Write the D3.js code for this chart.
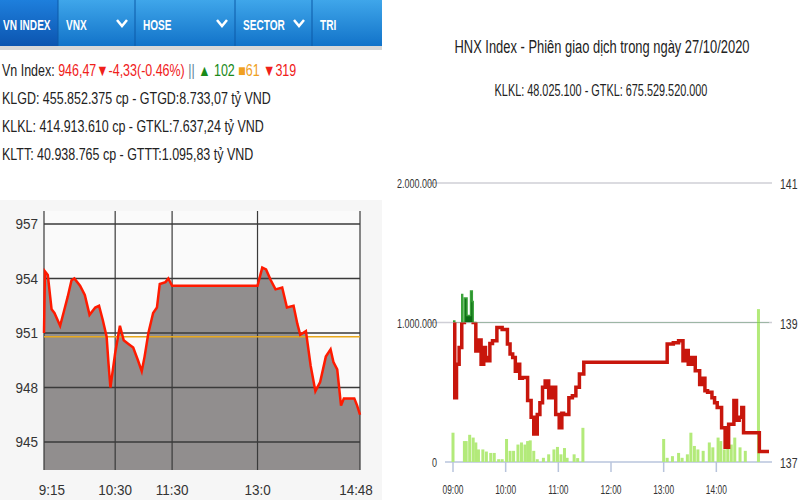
<!DOCTYPE html>
<html><head><meta charset="utf-8">
<script src="https://cdn.jsdelivr.net/npm/d3@7"></script>
<style>body{margin:0;background:#fff}svg{display:block}</style>
</head><body><svg id="c" width="800" height="500"></svg>
<script>
// ---------- data ----------
const tabs = ["VN INDEX","VNX","HOSE","SECTOR","TRI"];
const vnTimes = ["9:15","9:16","9:19","9:23","9:26","9:32","9:36","9:40","9:44","9:47","9:53","9:58","10:03","10:09","10:13","10:17","10:21","10:23","10:25","10:30","10:35","10:39","10:44","10:49","10:54","10:58","11:01","11:05","11:10","11:14","11:17","11:23","11:26","11:30","13:00","13:05","13:09","13:14","13:19","13:26","13:31","13:38","13:42","13:45","13:51","13:56","14:01","14:06","14:12","14:17","14:20","14:24","14:28","14:31","14:42","14:45","14:48"];
const vnValues = [951.0,954.4,954.2,952.3,952.1,951.4,952.2,953.0,953.9,954.0,953.6,953.1,952.0,952.4,952.5,951.7,950.8,949.3,948.0,949.9,951.4,950.6,950.4,950.2,949.5,948.9,949.7,951.0,952.1,952.4,953.7,953.8,954.0,953.6,953.6,954.6,954.5,953.9,953.4,953.5,952.4,952.5,951.5,950.9,951.1,949.2,947.8,948.3,949.7,950.1,949.4,949.0,947.0,947.4,947.4,947.0,946.5];
const vnRef = 950.8;
const vnYTicks = [945,948,951,954,957];
const vnXTicks = ["9:15","10:30","11:30","13:00","14:48"];
const vnXLabels = ["9:15","10:30","11:30","13:0","14:48"];

const hnxTimes = ["09:00","09:02","09:04","09:07","09:10","09:11","09:13","09:16","09:20","09:22","09:23","09:26","09:29","09:32","09:35","09:37","09:39","09:42","09:45","09:50","09:56","10:02","10:05","10:08","10:11","10:13","10:16","10:19","10:25","10:29","10:32","10:36","10:39","10:42","10:45","10:49","10:53","10:57","11:01","11:04","11:06","11:12","11:16","11:20","11:24","11:29","13:00","13:04","13:11","13:17","13:22","13:25","13:28","13:32","13:36","13:41","13:44","13:47","13:50","13:55","13:58","14:01","14:06","14:10","14:14","14:20","14:23","14:26","14:29","14:31","14:47","14:49","15:00"];
const hnxPrices = [139.02,137.92,138.4,138.64,139.4,139.0,139.35,139.1,139.45,139.3,139.0,138.59,138.75,138.40,138.64,138.5,138.45,138.7,138.74,138.93,138.90,138.69,138.55,138.50,138.30,138.40,138.2,138.21,137.88,137.64,137.40,137.68,137.85,138.07,138.16,137.92,138.07,137.68,137.49,137.7,137.68,137.92,137.95,138.07,138.26,138.43,138.43,138.69,138.71,138.74,138.45,138.6,138.40,138.5,138.31,138.11,138.2,138.02,138.0,137.92,137.85,137.78,137.49,137.21,137.54,137.88,137.6,137.64,137.78,137.42,137.42,137.15,137.15];
const hnxRef = 139;
const volTimes = ["09:00","09:13","09:15","09:19","09:23","09:26","09:29","09:34","09:38","09:43","09:47","09:52","09:56","10:01","10:05","10:09","10:14","10:18","10:22","10:25","10:28","10:32","10:36","10:43","10:49","10:55","10:59","11:03","11:07","11:10","11:18","11:22","11:28","13:00","13:04","13:10","13:17","13:21","13:27","13:31","13:35","13:39","13:45","13:52","13:56","14:02","14:05","14:09","14:13","14:17","14:21","14:27","14:33","14:48"];
const volValues = [210000,150000,150000,195000,175000,140000,90000,90000,75000,65000,65000,20000,20000,165000,80000,80000,125000,140000,125000,150000,155000,80000,20000,30000,55000,90000,108000,55000,100000,30000,55000,28000,245000,165000,30000,42000,65000,30000,55000,210000,115000,90000,80000,140000,105000,175000,150000,90000,175000,125000,175000,105000,80000,1096000];
const volTicks = [0,1000000,2000000];
const priceTicks = [137,139,141];
const hnxXTicks = ["09:00","10:00","11:00","12:00","13:00","14:00"];

// ---------- drawing ----------
const svg = d3.select("#c");
const nf = "'Liberation Sans',Arial,sans-serif";
const tp = d3.timeParse("%H:%M");
function txt(x,y,s,size,opt={}){
  const sx = opt.sx||0.82;
  const t = svg.append("text").attr("transform",`translate(${x},${y}) scale(${sx},1)`)
    .attr("font-family",nf).attr("font-size",size).attr("fill",opt.fill||"#222")
    .attr("text-anchor",opt.anchor||"start").attr("font-weight",opt.bold?"bold":"normal");
  if(s!==null) t.text(s);
  return t;
}

// tab bar
const defs = svg.append("defs");
const g1 = defs.append("linearGradient").attr("id","tb").attr("x1",0).attr("x2",0).attr("y1",0).attr("y2",1);
g1.append("stop").attr("offset","0").attr("stop-color","#3fa6ea");
g1.append("stop").attr("offset","1").attr("stop-color","#1273c9");
const g2 = defs.append("linearGradient").attr("id","tb2").attr("x1",0).attr("x2",0).attr("y1",0).attr("y2",1);
g2.append("stop").attr("offset","0").attr("stop-color","#1e7fdc");
g2.append("stop").attr("offset","1").attr("stop-color","#0c55b0");
svg.append("rect").attr("x",0).attr("y",44).attr("width",382).attr("height",6).attr("fill","#d8d8d8");
svg.append("rect").attr("x",0).attr("y",0).attr("width",382).attr("height",46).attr("fill","url(#tb)");
const tabX = [0,58,135,235,312,382];
tabs.forEach((t,i)=>{
  if(i===0) svg.append("rect").attr("x",0).attr("y",0).attr("width",58).attr("height",46).attr("fill","url(#tb2)");
  if(i>0) svg.append("line").attr("x1",tabX[i]).attr("x2",tabX[i]).attr("y1",0).attr("y2",46).attr("stroke","#0d5aa8");
  txt(tabX[i]+(i===0?3:8),30,t,14,{fill:"#fff",bold:true,sx:0.72});
  if(i>=1&&i<=3){
    const cx=tabX[i+1]-13;
    svg.append("path").attr("d",`M${cx-5},${20}L${cx},${26}L${cx+5},${20}`).attr("fill","none").attr("stroke","#fff").attr("stroke-width",2.5);
  }
});
// info lines
const info = txt(2,76,null,16,{sx:0.78});
info.append("tspan").text("Vn Index: ").attr("fill","#222");
info.append("tspan").text("946,47▼-4,33(-0.46%)").attr("fill","#f0201a");
info.append("tspan").text(" || ").attr("fill","#5b7f9a");
info.append("tspan").text("  ▲ 102").attr("fill","#1a8a1a");
info.append("tspan").text("   ■61").attr("fill","#f0a020");
info.append("tspan").text("   ▼319").attr("fill","#f0201a");
["KLGD: 455.852.375 cp - GTGD:8.733,07 tỷ VND","KLKL: 414.913.610 cp - GTKL:7.637,24 tỷ VND","KLTT: 40.938.765 cp - GTTT:1.095,83 tỷ VND"].forEach((s,i)=>{
  txt(2,104+i*28,s,16,{sx:0.78});
});

// left chart
const lx = d3.scaleTime().domain([tp("9:15"),tp("14:48")]).range([44,360]);
const ly = d3.scaleLinear().domain([945,957]).range([442,224]);
const lBottom = 470, lTop = 211;
svg.append("rect").attr("x",0).attr("y",200).attr("width",382).attr("height",300).attr("fill","#f6f6f6");
svg.append("rect").attr("x",44).attr("y",lTop).attr("width",316).attr("height",lBottom-lTop).attr("fill","#fafafa");
const vd = vnTimes.map((t,i)=>({t:tp(t),v:vnValues[i]}));
svg.append("path").datum(vd).attr("fill","#918e8e")
  .attr("d",d3.area().x(d=>lx(d.t)).y0(lBottom).y1(d=>ly(d.v)));
vnYTicks.forEach(v=>{
  svg.append("line").attr("x1",44).attr("x2",360).attr("y1",ly(v)).attr("y2",ly(v)).attr("stroke","#3a3a3a").attr("stroke-width",1.3);
  txt(38,ly(v)+5,v,15,{anchor:"end",fill:"#333",sx:0.9});
});
vnXTicks.forEach((t,i)=>{
  svg.append("line").attr("x1",lx(tp(t))).attr("x2",lx(tp(t))).attr("y1",lTop).attr("y2",lBottom).attr("stroke","#3a3a3a").attr("stroke-width",1.2);
  txt(lx(tp(t))+(i===0?8:i===4?-4:0),495,vnXLabels[i],15,{anchor:"middle",fill:"#333",sx:0.9});
});
svg.append("line").attr("x1",44).attr("x2",360).attr("y1",ly(vnRef)).attr("y2",ly(vnRef)).attr("stroke","#e8a81c").attr("stroke-width",1.5);
svg.append("path").datum(vd).attr("fill","none").attr("stroke","#ff1a00").attr("stroke-width",2.5)
  .attr("d",d3.line().x(d=>lx(d.t)).y(d=>ly(d.v)));

// right chart
txt(602,53,"HNX Index - Phiên giao dịch trong ngày 27/10/2020",19,{anchor:"middle",sx:0.68});
txt(601,96,"KLKL: 48.025.100 - GTKL: 675.529.520.000",16,{anchor:"middle",sx:0.68});
const rx = d3.scaleTime().domain([tp("09:00"),tp("15:00")]).range([453,769]);
const vy = d3.scaleLinear().domain([0,2000000]).range([462,183]);
const py = d3.scaleLinear().domain([137,141]).range([462,183]);
volTicks.forEach((v,i)=>{
  svg.append("line").attr("x1",i===0?445:428).attr("x2",772).attr("y1",vy(v)).attr("y2",vy(v)).attr("stroke",i===0?"#b8c4dc":"#cfcfd6").attr("stroke-width",1.5);
  txt(437,vy(v)+5,d3.format(",")(v).replace(/,/g,"."),12,{anchor:"end",fill:"#333",sx:0.75});
  txt(780,vy(v)+6,priceTicks[i],14,{fill:"#333",sx:0.75});
});
hnxXTicks.forEach(t=>{
  svg.append("line").attr("x1",rx(tp(t))).attr("x2",rx(tp(t))).attr("y1",462).attr("y2",472).attr("stroke","#b8c4dc").attr("stroke-width",1.5);
  txt(rx(tp(t)),494,t,12,{anchor:"middle",fill:"#333",sx:0.7});
});
volTimes.forEach((t,i)=>{
  svg.append("rect").attr("x",rx(tp(t))-1.5).attr("width",3).attr("y",vy(volValues[i])).attr("height",462-vy(volValues[i])).attr("fill","#b3ea7a");
});
const hd = hnxTimes.map((t,i)=>({t:tp(t),v:hnxPrices[i]}));
const hline = d3.line().x(d=>rx(d.t)).y(d=>py(d.v)).curve(d3.curveStepAfter);
defs.append("clipPath").attr("id","above").append("rect").attr("x",440).attr("y",150).attr("width",340).attr("height",py(hnxRef)-150);
defs.append("clipPath").attr("id","below").append("rect").attr("x",440).attr("y",py(hnxRef)).attr("width",340).attr("height",200);
svg.append("path").datum(hd).attr("clip-path","url(#above)").attr("fill","#0b6b14")
  .attr("d",d3.area().x(d=>rx(d.t)).y0(py(hnxRef)).y1(d=>py(d.v)).curve(d3.curveStepAfter));
svg.append("path").datum(hd).attr("clip-path","url(#above)").attr("fill","none").attr("stroke","#3aa23a").attr("stroke-width",1.5).attr("d",hline);
svg.append("path").datum(hd).attr("clip-path","url(#below)").attr("fill","none").attr("stroke","#c8160c").attr("stroke-width",3.5).attr("d",hline);
</script></body></html>
